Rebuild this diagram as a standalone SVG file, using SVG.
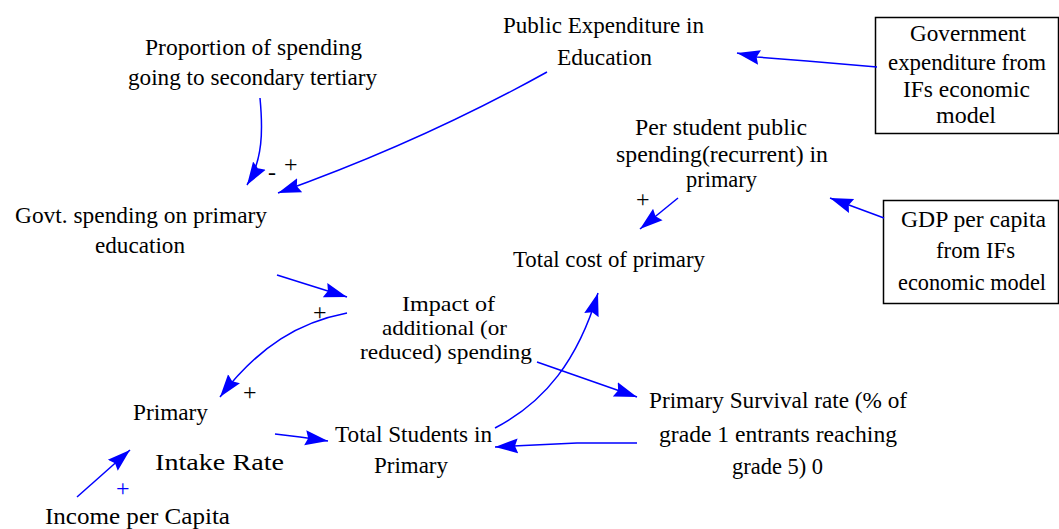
<svg xmlns="http://www.w3.org/2000/svg" width="1059" height="529" viewBox="0 0 1059 529">
<defs>
<style>
text{font-family:Liberation Serif,Tinos,Times New Roman,Times,Noto Serif,DejaVu Serif,FreeSerif,serif;font-size:24px;fill:#000;}
.lnk{fill:none;stroke:#0000ff;stroke-width:1.5;marker-end:url(#ah);}
.box{fill:#fff;stroke:#000;stroke-width:1.5;}
.pol{font-size:24px;}
.polb{font-size:24px;fill:#0000ff;}
#impact text{font-size:21px;}
</style>
<marker id="ah" markerUnits="userSpaceOnUse" markerWidth="26" markerHeight="18" refX="23" refY="9" orient="auto">
<path d="M0,1.5 L23,9 L0,16.5 L3,9 z" fill="#0000ff"/>
</marker>
</defs>
<rect width="1059" height="529" fill="#fff"/>

<g id="public-expenditure">
<text x="503" y="33" textLength="201" lengthAdjust="spacingAndGlyphs">Public Expenditure in</text>
<text x="557" y="65" textLength="95" lengthAdjust="spacingAndGlyphs">Education</text>
</g>
<g id="proportion">
<text x="145" y="55" textLength="217" lengthAdjust="spacingAndGlyphs">Proportion of spending</text>
<text x="128" y="85" textLength="249" lengthAdjust="spacingAndGlyphs">going to  secondary tertiary</text>
</g>
<g id="govt-spending">
<text x="15" y="223" textLength="252" lengthAdjust="spacingAndGlyphs">Govt. spending on primary</text>
<text x="95" y="253" textLength="90" lengthAdjust="spacingAndGlyphs">education</text>
</g>
<g id="gov-expenditure-box">
<rect class="box" x="875.5" y="17.5" width="183" height="116"/>
<text x="910" y="41" textLength="116" lengthAdjust="spacingAndGlyphs">Government</text>
<text x="888" y="70" textLength="158" lengthAdjust="spacingAndGlyphs">expenditure from</text>
<text x="903" y="97" textLength="127" lengthAdjust="spacingAndGlyphs">IFs economic</text>
<text x="936" y="123" textLength="60" lengthAdjust="spacingAndGlyphs">model</text>
</g>
<g id="per-student">
<text x="635" y="135" textLength="172" lengthAdjust="spacingAndGlyphs">Per student public</text>
<text x="616" y="162" textLength="212" lengthAdjust="spacingAndGlyphs">spending(recurrent) in</text>
<text x="686" y="187" textLength="71" lengthAdjust="spacingAndGlyphs">primary</text>
</g>
<g id="gdp-box">
<rect class="box" x="883.5" y="200.5" width="175" height="103"/>
<text x="901" y="227" textLength="145" lengthAdjust="spacingAndGlyphs">GDP per capita</text>
<text x="936" y="258" textLength="79" lengthAdjust="spacingAndGlyphs">from IFs</text>
<text x="898" y="290" textLength="148" lengthAdjust="spacingAndGlyphs">economic model</text>
</g>
<g id="total-cost">
<text x="513" y="267" textLength="192" lengthAdjust="spacingAndGlyphs">Total cost of primary</text>
</g>
<g id="impact">
<text x="402" y="311" textLength="93" lengthAdjust="spacingAndGlyphs">Impact of</text>
<text x="382" y="335" textLength="125" lengthAdjust="spacingAndGlyphs">additional (or</text>
<text x="360" y="359" textLength="172" lengthAdjust="spacingAndGlyphs">reduced) spending</text>
</g>
<g id="primary-intake">
<text x="133" y="420" textLength="75" lengthAdjust="spacingAndGlyphs">Primary</text>
<text x="155" y="470" textLength="129" lengthAdjust="spacingAndGlyphs">Intake Rate</text>
</g>
<g id="total-students">
<text x="335" y="442" textLength="157" lengthAdjust="spacingAndGlyphs">Total Students in</text>
<text x="374" y="473" textLength="74" lengthAdjust="spacingAndGlyphs">Primary</text>
</g>
<g id="survival-rate">
<text x="649" y="408" textLength="258" lengthAdjust="spacingAndGlyphs">Primary Survival rate (% of</text>
<text x="659" y="442" textLength="238" lengthAdjust="spacingAndGlyphs">grade 1 entrants reaching</text>
<text x="732" y="474" textLength="91" lengthAdjust="spacingAndGlyphs">grade 5) 0</text>
</g>
<g id="income">
<text x="45" y="524" textLength="185" lengthAdjust="spacingAndGlyphs">Income per Capita</text>
</g>

<g id="connectors">
<path class="lnk" d="M877,67 L807,61 L757,57 L737,53"/>
<path class="lnk" d="M547,72 Q421,142 278,193"/>
<path class="lnk" d="M260,98 C263,130 263,160 247,185"/>
<path class="lnk" d="M678,198 L640,229"/>
<path class="lnk" d="M884,218 L830,198"/>
<path class="lnk" d="M277,275 L347,297"/>
<path class="lnk" d="M347,313 C300,322 260,345 220,397"/>
<path class="lnk" d="M77,497 L130,450"/>
<path class="lnk" d="M275,434 L300,437 L328,441"/>
<path class="lnk" d="M495,428 C545,402 578,360 598,293"/>
<path class="lnk" d="M537,362 L637,397"/>
<path class="lnk" d="M637,443 L577,443 L495,447"/>
</g>
<g id="polarities">
<text class="pol" x="268" y="180">-</text>
<text class="pol" x="284" y="172">+</text>
<text class="pol" x="636" y="207">+</text>
<text class="pol" x="313" y="320">+</text>
<text class="pol" x="243" y="400">+</text>
<text class="polb" x="116" y="496">+</text>
</g>
</svg>
